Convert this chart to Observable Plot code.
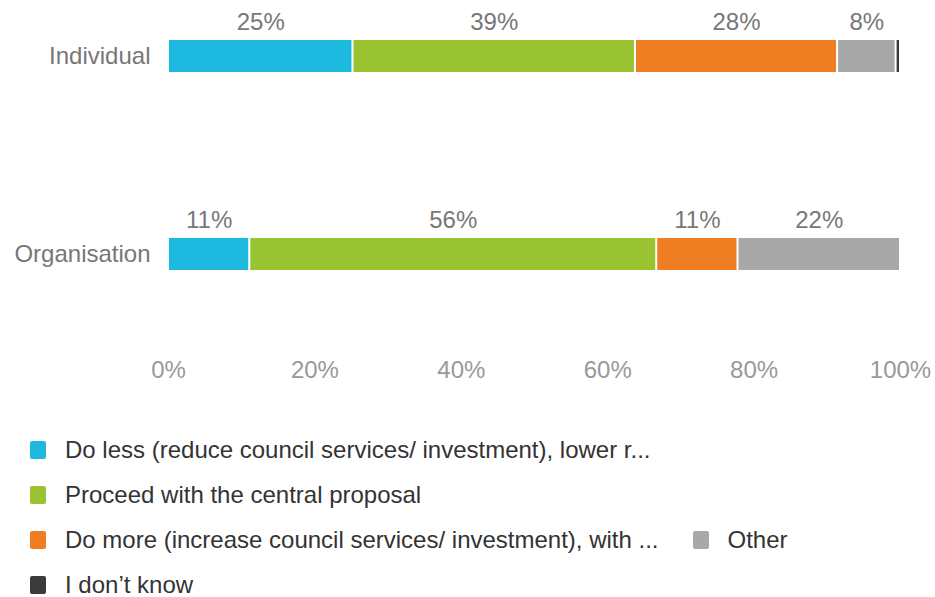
<!DOCTYPE html>
<html>
<head>
<meta charset="utf-8">
<script src="https://cdn.jsdelivr.net/npm/d3@7"></script>
<script src="https://cdn.jsdelivr.net/npm/@observablehq/plot@0.6"></script>
<style>
  html, body { margin: 0; padding: 0; background: #fff; }
  body { width: 935px; height: 597px; overflow: hidden; font-family: "Liberation Sans", Arial, sans-serif; }
  #chart svg { display: block; }
  #legend { display: flex; flex-wrap: wrap; width: 800px; margin-left: 30px; margin-top: 38px; column-gap: 34px; row-gap: 21px; }
  .item { display: flex; align-items: center; height: 24px; line-height: 24px; font-size: 24px; color: #333; white-space: nowrap; }
  .sw { width: 16px; height: 18px; border-radius: 2px; margin-right: 19px; flex: none; }
</style>
</head>
<body>
<div id="chart"></div>
<div id="legend"></div>
<script>
const categories = ["Individual", "Organisation"];
const answers = [
  "Do less (reduce council services/ investment), lower r...",
  "Proceed with the central proposal",
  "Do more (increase council services/ investment), with ...",
  "Other",
  "I don\u2019t know"
];
const individualValues = [25.2, 38.6, 27.6, 8.0, 0.6];
const organisationValues = [11.1, 55.6, 11.1, 22.2, 0];
const colors = ["#1db9df", "#99c330", "#ef7e22", "#a8a8a8", "#3a3a3a"];
const xTicks = [0, 20, 40, 60, 80, 100];

const data = [];
[individualValues, organisationValues].forEach((vals, i) => {
  vals.forEach((v, j) => {
    if (v > 0) data.push({category: categories[i], answer: answers[j], value: v});
  });
});

const chart = Plot.plot({
  width: 935,
  height: 400,
  marginLeft: 168,
  marginRight: 35,
  marginTop: 0,
  marginBottom: 50,
  x: {domain: [0, 100], label: null},
  y: {domain: categories, range: [20, 290], paddingInner: 0.8384, paddingOuter: 0.1, label: null},
  color: {domain: answers, range: colors},
  style: {fontFamily: "Liberation Sans, Arial, sans-serif", fontSize: "24px", background: "white"},
  marks: [
    Plot.barX(data, Plot.stackX({x: "value", y: "category", fill: "answer", insetLeft: 1, insetRight: 1})),
    Plot.textX(data.filter(d => d.value >= 1), Plot.stackX({
      x: "value", y: "category", z: "answer",
      text: d => Math.round(d.value) + "%",
      dy: -34, fill: "#777", fontSize: 24
    })),
    Plot.axisX({ticks: xTicks, tickSize: 0, tickPadding: 10, tickFormat: d => d + "%", fill: "#999", fontSize: 24, label: null}),
    Plot.axisY({tickSize: 0, tickPadding: 18, fill: "#777", fontSize: 24, label: null})
  ]
});
document.getElementById("chart").appendChild(chart);

const legend = document.getElementById("legend");
answers.forEach((a, i) => {
  const it = document.createElement("div");
  it.className = "item";
  const sw = document.createElement("span");
  sw.className = "sw";
  sw.style.background = colors[i];
  const t = document.createElement("span");
  t.textContent = a;
  it.appendChild(sw);
  it.appendChild(t);
  legend.appendChild(it);
});
</script>
</body>
</html>
